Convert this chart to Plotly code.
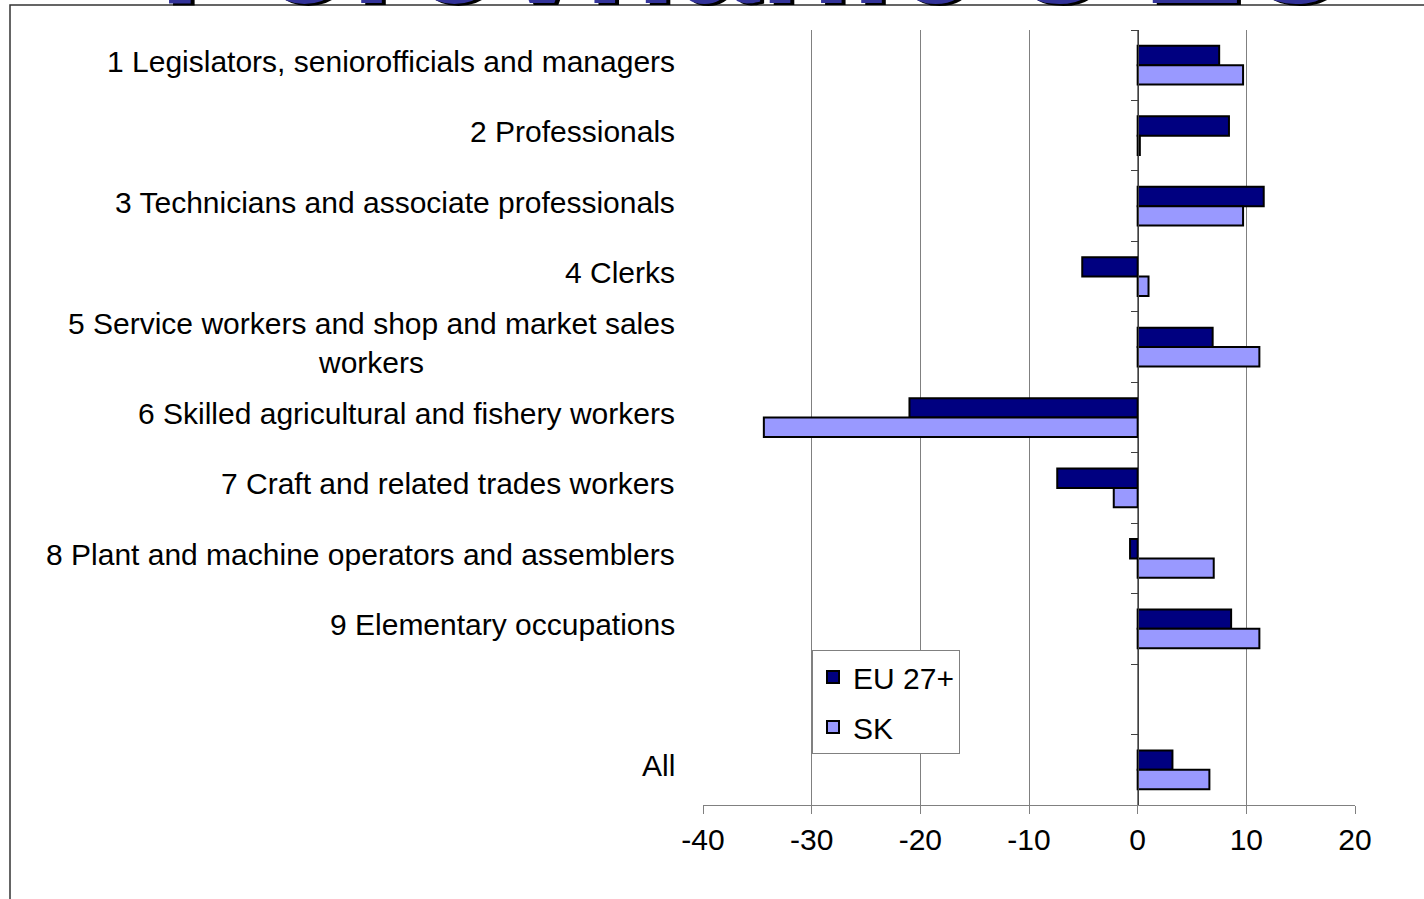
import plotly.graph_objects as go

# occupation groups (top to bottom), blank row before "All"
categories = [
    "1 Legislators, seniorofficials and managers",
    "2 Professionals",
    "3 Technicians and associate professionals",
    "4 Clerks",
    "5 Service workers and shop and market sales<br>workers",
    "6 Skilled agricultural and fishery workers",
    "7 Craft and related trades workers",
    "8 Plant and machine operators and assemblers",
    "9 Elementary occupations",
    " ",
    "All",
]
eu_values = [7.5, 8.4, 11.6, -5.1, 6.9, -21.0, -7.4, -0.7, 8.6, None, 3.2]
sk_values = [9.7, 0.2, 9.7, 1.0, 11.2, -34.4, -2.2, 7.0, 11.2, None, 6.6]
x_ticks = [-40, -30, -20, -10, 0, 10, 20]
title_text = "Porovnanie s EÚ"

FONT = "Liberation Sans, Arial, sans-serif"

# pixel geometry of the plot area
W, H = 1424, 899
L, R, T, B = 703, 1355, 30, 805


def px_x(p):
    return (p - L) / (R - L)


def px_y(p):
    return (B - p) / (B - T)


fig = go.Figure()
fig.add_trace(go.Bar(
    name="EU 27+", y=categories, x=eu_values, orientation="h",
    marker=dict(color="#000080", line=dict(color="black", width=2)),
    legendgroup="eu",
))
fig.add_trace(go.Bar(
    name="SK", y=categories, x=sk_values, orientation="h",
    marker=dict(color="#9999FF", line=dict(color="black", width=2)),
    legendgroup="sk",
))

# category labels as annotations so wrapped lines stay centred
annots = []
for c in categories:
    if c.strip() == "":
        continue
    annots.append(dict(
        x=px_x(677), xref="paper", y=c, yref="y", yshift=4,
        text=c, showarrow=False, xanchor="right", yanchor="middle",
        align="center", font=dict(family=FONT, size=30, color="black"),
    ))

# big title, mostly above the page (only its bottom edge shows)
annots.append(dict(
    x=px_x(755), xref="paper", y=px_y(37), yref="paper",
    text="<b>" + title_text + "</b>", showarrow=False,
    xanchor="center", yanchor="bottom",
    font=dict(family=FONT, size=150, color="#333399", shadow="4px 2px 0px #000000"),
))

fig.update_layout(
    width=W, height=H,
    margin=dict(l=L, r=W - R, t=T, b=H - B),
    paper_bgcolor="white", plot_bgcolor="rgba(0,0,0,0)",
    barmode="group", bargap=0.45, bargroupgap=0,
    font=dict(family=FONT, size=30, color="black"),
    annotations=annots,
    showlegend=True,
    legend=dict(
        x=px_x(812), y=px_y(650), xanchor="left", yanchor="top",
        bgcolor="white", bordercolor="#808080", borderwidth=1,
        font=dict(family=FONT, size=30, color="black"),
        tracegroupgap=8,
    ),
    shapes=[dict(
        type="rect", xref="paper", yref="paper",
        x0=px_x(10), x1=px_x(1500), y0=px_y(950), y1=px_y(5),
        line=dict(color="#333333", width=1.5),
        fillcolor="rgba(0,0,0,0)", layer="below",
    )],
)

fig.update_xaxes(
    range=[-40, 20], tickvals=x_ticks, ticktext=[str(v) for v in x_ticks],
    showgrid=True, gridcolor="#808080", gridwidth=1,
    showline=True, linecolor="#808080", linewidth=1,
    ticks="outside", ticklen=8, tickcolor="#808080",
    zeroline=False, tickfont=dict(family=FONT, size=30, color="black"),
)
fig.update_yaxes(
    type="category", categoryorder="array", categoryarray=categories,
    range=[len(categories) - 0.5, -0.5],
    anchor="free", position=px_x(1137.7),
    showline=True, linecolor="#404040", linewidth=1,
    ticks="outside", ticklen=7, tickcolor="#404040", tickson="boundaries",
    showticklabels=False, showgrid=False, zeroline=False,
)

# the page's default body margin would shift the figure by 8px
fig.write_html("out.html", config={"displayModeBar": False},
               post_script="document.body.style.margin='0';")
